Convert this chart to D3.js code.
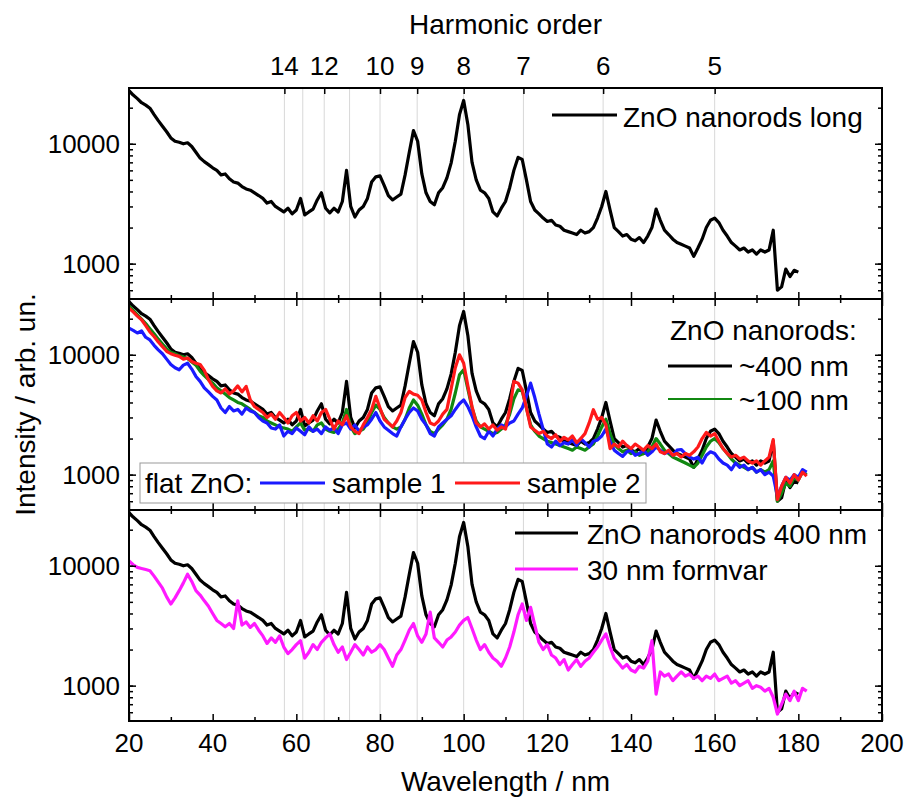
<!DOCTYPE html>
<html>
<head>
<meta charset="utf-8">
<script src="https://cdn.jsdelivr.net/npm/d3@7"></script>
<style>
  body { margin: 0; background: #fff; }
  text { font-family: "Liberation Sans", Arial, sans-serif; fill: #000; }
</style>
</head>
<body>
<script>
// spectra sampled every 1 nm starting at 20 nm
const startNm = 20;

// ZnO nanorods ~400 nm (black), 20..180 nm
const zno400 = [
  27800,25500,23800,22000,21000,19800,17500,15600,14000,12600,
  11200,10500,10300,10000,10200,9500,8500,7600,7100,6700,
  6300,6000,5500,5600,5100,4800,4700,4400,4200,4100,
  3900,3700,3500,3200,3300,3000,2850,2700,2900,2600,
  2800,3500,2550,2700,2850,3400,3900,2900,2650,2900,
  2700,3300,6000,3000,2450,2800,3000,3500,4800,5300,
  5400,4500,3700,3400,3600,3800,5500,8500,12900,10500,
  5600,3900,3300,3100,3900,4300,5200,6900,10500,17500,
  23000,14500,7000,5000,4100,3900,3500,2700,2500,2900,
  3300,4300,6000,7700,7400,5000,3300,2800,2600,2400,
  2250,2300,2100,2050,1900,1850,1800,1750,1900,1800,
  1850,2000,2400,3000,4000,2800,2000,1850,1700,1750,
  1600,1550,1650,1500,1700,2000,2850,2300,1900,1750,
  1600,1500,1450,1400,1350,1150,1350,1600,2000,2300,
  2400,2200,1900,1700,1500,1400,1300,1350,1250,1300,
  1200,1300,1250,1300,1900,600,640,900,780,880,
  850
];

// ZnO nanorods ~100 nm (green), 20..182 nm
const zno100 = [
  25500,23500,21500,19800,18200,16500,15000,13500,12300,11200,
  10500,10200,9800,9600,9300,8700,8200,7300,6700,6200,
  5800,5300,5000,4700,4400,4200,4000,3900,3700,3500,
  3300,3100,3000,2800,2700,2600,2500,2450,2400,2300,
  2500,2700,2350,2400,2300,2600,2700,2400,2300,2250,
  2400,2700,3500,2500,2200,2300,2400,2700,3300,3800,
  3500,3000,2700,2500,2400,2500,2900,3600,4200,3800,
  3200,2600,2300,2200,2400,2600,2900,3500,4800,6800,
  7500,5200,3600,2800,2500,2400,2300,2200,2250,2400,
  2600,3200,4300,5100,5000,3600,2600,2300,2100,2000,
  1900,1850,1800,1750,1700,1650,1600,1700,1650,1600,
  1700,1800,2100,2500,2900,2200,1800,1650,1550,1600,
  1500,1550,1450,1500,1550,1700,2000,1800,1600,1500,
  1400,1350,1300,1250,1200,1150,1250,1450,1700,1900,
  2000,1850,1650,1500,1350,1250,1200,1150,1100,1150,
  1050,1100,1050,1100,1300,600,700,850,800,950,
  900,1050,1000
];

// flat ZnO sample 1 (blue), 20..182 nm
const flat1 = [
  16700,16000,15200,15800,14000,13300,12000,11000,10200,9200,
  8300,7800,7500,8200,8500,7600,6600,6000,5300,4900,
  4500,4200,3600,3300,3700,3400,3500,3200,3600,3400,
  3300,3000,2800,2700,2450,2400,2600,2100,2300,2200,
  2450,2300,2150,2500,2300,2400,2200,2500,2350,2450,
  2200,2600,2700,2400,2600,2300,2500,2600,2900,3300,
  2800,2500,2350,2200,2100,2500,2900,3300,3600,3400,
  2900,2600,2200,2100,2500,2700,2900,3100,3500,3900,
  4200,3700,3100,2500,2100,2000,2300,2100,2400,2600,
  2500,2700,2800,3200,3600,4500,5800,4400,3200,2400,
  1800,1700,1900,1750,1850,1800,1950,1750,2000,1850,
  1700,1900,1950,2100,2400,1900,1600,1500,1420,1550,
  1600,1450,1500,1600,1450,1550,1700,1600,1500,1550,
  1450,1600,1620,1500,1400,1350,1400,1250,1450,1550,
  1500,1350,1250,1200,1100,1250,1150,1200,1100,1150,
  1050,1100,1000,1050,970,660,800,950,900,1000,
  950,1100,1050
];

// flat ZnO sample 2 (red), 20..182 nm
const flat2 = [
  24500,22800,21000,19600,17500,15500,14200,12800,11700,10700,
  10200,9900,9700,9200,9400,8800,8500,8300,7400,6200,
  5450,5000,4800,5200,4700,5000,5500,4900,5450,4200,
  3700,3500,3300,3000,3200,2900,3300,3000,2700,3100,
  3300,2800,3000,2700,3100,2800,3300,3500,2900,2400,
  2800,2600,3100,2500,2300,2200,2600,3000,3500,4500,
  3600,2900,2700,2500,2800,3300,4400,4950,4700,4600,
  4200,3300,2700,2600,2800,3200,3500,5200,7800,10000,
  8500,5500,3700,2700,2500,2650,2400,2600,2350,2500,
  2400,3500,6000,5800,5100,3600,2500,2350,2200,2300,
  2100,2000,2150,1900,2050,1950,2100,1850,2000,2200,
  2700,3480,2900,3000,2600,1650,1800,1700,1900,1750,
  1650,1800,1700,1600,1750,1650,1800,1550,1500,1600,
  1450,1500,1400,1500,1450,1550,1700,2000,2250,2100,
  2200,1900,1650,1500,1400,1450,1350,1400,1300,1250,
  1300,1200,1300,1400,1960,620,800,950,850,1000,
  900,1050,970
];

// 30 nm formvar (magenta), 20..182 nm
const formvar = [
  11000,10200,9700,9500,9300,9100,8200,7300,6500,5500,
  4800,5400,6200,7200,8500,7400,6200,5700,5100,4600,
  4000,3500,3300,3100,3300,3000,5100,3200,3400,3060,
  3300,2900,2600,2250,2500,2300,2600,2100,1850,2000,
  2200,2370,1700,1900,2200,2000,2300,2500,2700,2200,
  1900,2100,1650,1900,2200,2000,1800,2100,1900,2000,
  2200,2000,1700,1450,1800,2000,2400,2900,3300,2600,
  2300,2700,4100,2500,2300,2100,2400,2550,2800,3200,
  3500,3700,3000,2400,2000,2200,1900,1700,1600,1450,
  1700,2100,2800,3900,4800,3500,4500,3200,2300,2000,
  2200,1800,1700,1500,1650,1350,1500,1650,1450,1600,
  1700,1900,2100,2400,2700,2100,1700,1550,1400,1500,
  1350,1300,1450,1400,1600,2370,850,1300,1200,1250,
  1100,1200,1300,1200,1250,1150,1200,1100,1200,1150,
  1250,1100,1150,1200,1050,1100,1000,1050,1100,950,
  1000,970,900,950,800,580,700,850,750,900,
  750,950,900
];

// harmonic orders of the 800 nm driver
const harmonics = [14, 13, 12, 11, 10, 9, 8, 7, 6, 5];
const harmonicLabels = [14, 12, 10, 9, 8, 7, 6, 5];
const xTicks = [20, 40, 60, 80, 100, 120, 140, 160, 180, 200];
const yTicks = [1000, 10000];

const W = 909, H = 801;
const left = 129, right = 882;
const panelTops = [88, 299, 510];
const panelH = 211;

const svg = d3.select("body").append("svg")
    .attr("width", W).attr("height", H);

const x = d3.scaleLinear().domain([20, 200]).range([left, right]);

function yscale(top) {
  return d3.scaleLog().domain([507, 29200]).range([top + panelH, top]);
}

// harmonic guide lines (behind everything)
svg.append("g").selectAll("line")
  .data(harmonics).enter().append("line")
    .attr("x1", d => x(800 / d)).attr("x2", d => x(800 / d))
    .attr("y1", panelTops[0]).attr("y2", panelTops[2] + panelH)
    .attr("stroke", "#d8d8d8").attr("stroke-width", 1);

const panels = [
  { series: [[zno400, "#000"]] },
  { series: [[zno400, "#000"], [zno100, "#118811"], [flat1, "#1a1aff"], [flat2, "#ff1a1a"]] },
  { series: [[zno400, "#000"], [formvar, "#ff1aff"]] }
];

panels.forEach((p, k) => {
  const top = panelTops[k];
  const y = yscale(top);
  const g = svg.append("g");

  const line = d3.line()
      .x((d, i) => x(startNm + i))
      .y(d => y(d));

  p.series.forEach(s => {
    g.append("path").datum(s[0])
      .attr("d", line)
      .attr("fill", "none")
      .attr("stroke", s[1])
      .attr("stroke-width", 3.2)
      .attr("stroke-linejoin", "round");
  });

  // left / right y axes
  g.append("g").attr("transform", "translate(" + left + ",0)")
    .call(d3.axisRight(y).tickValues(yTicks).tickSize(7).tickFormat(""));
  g.append("g").attr("transform", "translate(" + left + ",0)")
    .call(d3.axisRight(y).ticks(10).tickSize(4).tickFormat(""));
  g.append("g").attr("transform", "translate(" + right + ",0)")
    .call(d3.axisLeft(y).tickValues(yTicks).tickSize(7).tickFormat(""));
  g.append("g").attr("transform", "translate(" + right + ",0)")
    .call(d3.axisLeft(y).ticks(10).tickSize(4).tickFormat(""));

  yTicks.forEach(v => {
    g.append("text")
      .attr("x", left - 9).attr("y", y(v) + 9)
      .attr("text-anchor", "end").style("font-size", "26px")
      .text(v);
  });

  // bottom x ticks (inward)
  g.append("g").attr("transform", "translate(0," + (top + panelH) + ")")
    .call(d3.axisTop(x).tickValues(xTicks).tickSize(7).tickFormat(""));
  g.append("g").attr("transform", "translate(0," + (top + panelH) + ")")
    .call(d3.axisTop(x).tickValues(d3.range(30, 200, 20)).tickSize(4).tickFormat(""));

  // top x ticks
  if (k == 0) {
    g.append("g").attr("transform", "translate(0," + top + ")")
      .call(d3.axisBottom(x).tickValues(harmonicLabels.map(n => 800 / n)).tickSize(6).tickFormat(""));
  } else {
    g.append("g").attr("transform", "translate(0," + top + ")")
      .call(d3.axisBottom(x).tickValues(xTicks).tickSize(7).tickFormat(""));
    g.append("g").attr("transform", "translate(0," + top + ")")
      .call(d3.axisBottom(x).tickValues(d3.range(30, 200, 20)).tickSize(4).tickFormat(""));
  }

  // frame
  g.append("rect")
    .attr("x", left).attr("y", top)
    .attr("width", right - left).attr("height", panelH)
    .attr("fill", "none").attr("stroke", "#000").attr("stroke-width", 2);
});

svg.selectAll(".domain").remove();
svg.selectAll(".tick line").attr("stroke", "#000").attr("stroke-width", 1.5);

// bottom tick labels
svg.append("g").selectAll("text")
  .data(xTicks).enter().append("text")
    .attr("x", d => x(d)).attr("y", 752)
    .attr("text-anchor", "middle").style("font-size", "26px")
    .text(d => d);

// top harmonic labels
svg.append("g").selectAll("text")
  .data(harmonicLabels).enter().append("text")
    .attr("x", d => x(800 / d)).attr("y", 75)
    .attr("text-anchor", "middle").style("font-size", "26px")
    .text(d => d);

svg.append("text")
  .attr("x", (left + right) / 2).attr("y", 34)
  .attr("text-anchor", "middle").style("font-size", "28px")
  .text("Harmonic order");

svg.append("text")
  .attr("x", (left + right) / 2).attr("y", 791)
  .attr("text-anchor", "middle").style("font-size", "28px")
  .text("Wavelength / nm");

svg.append("text")
  .attr("transform", "translate(35," + (panelTops[0] + 1.5 * panelH) + ") rotate(-90)")
  .attr("text-anchor", "middle").style("font-size", "28px")
  .text("Intensity / arb. un.");

// legends
function legendLine(x1, x2, yy, color, w) {
  svg.append("line")
    .attr("x1", x1).attr("x2", x2).attr("y1", yy).attr("y2", yy)
    .attr("stroke", color).attr("stroke-width", w);
}
function legendText(xx, yy, txt) {
  svg.append("text").attr("x", xx).attr("y", yy)
    .style("font-size", "28px").text(txt);
}

legendLine(552, 617, 115, "#000", 3);
legendText(623, 127, "ZnO nanorods long");

legendText(670, 340, "ZnO nanorods:");
legendLine(668, 732, 366, "#000", 3);
legendText(739, 376, "~400 nm");
legendLine(668, 732, 399, "#118811", 2);
legendText(739, 410, "~100 nm");

svg.append("rect")
  .attr("x", 140).attr("y", 463).attr("width", 506).attr("height", 40)
  .attr("fill", "#fff").attr("stroke", "#999").attr("stroke-width", 1);
legendText(145, 493, "flat ZnO:");
legendLine(260, 325, 483, "#1a1aff", 3);
legendText(332, 493, "sample 1");
legendLine(455, 520, 483, "#ff1a1a", 3);
legendText(527, 493, "sample 2");

legendLine(515, 578, 533, "#000", 3);
legendText(587, 544, "ZnO nanorods 400 nm");
legendLine(515, 578, 569, "#ff1aff", 3);
legendText(587, 580, "30 nm formvar");
</script>
</body>
</html>
